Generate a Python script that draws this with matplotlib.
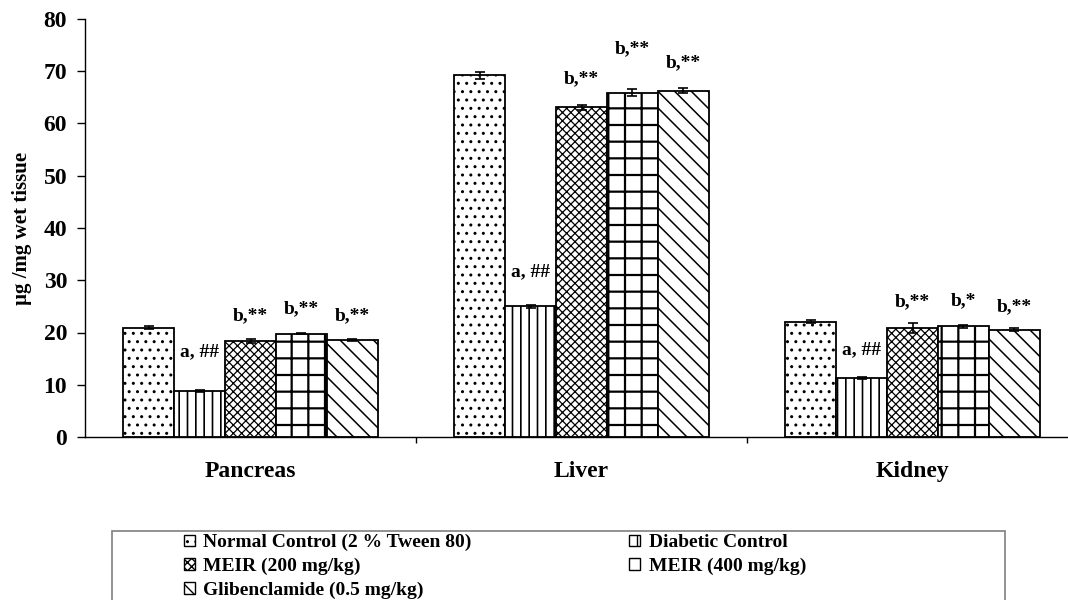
import matplotlib
matplotlib.use("Agg")
import matplotlib.pyplot as plt
import numpy as np
from matplotlib.patches import Rectangle, Patch

plt.rcParams["font.family"] = ["Liberation Serif", "DejaVu Serif"]
plt.rcParams["font.weight"] = "bold"
plt.rcParams["hatch.linewidth"] = 1.0

# ---- data -------------------------------------------------------------
tissues = ["Pancreas", "Liver", "Kidney"]
groups = [
    "Normal Control (2 % Tween 80)",
    "Diabetic Control",
    "MEIR (200 mg/kg)",
    "MEIR (400 mg/kg)",
    "Glibenclamide (0.5 mg/kg)",
]

normal_control = [20.9, 69.2, 22.1]
normal_control_err = [0.3, 0.6, 0.2]
diabetic_control = [8.8, 25.0, 11.3]
diabetic_control_err = [0.1, 0.3, 0.2]
meir_200 = [18.3, 63.1, 20.9]
meir_200_err = [0.4, 0.5, 0.9]
meir_400 = [19.8, 65.9, 21.2]
meir_400_err = [0.1, 0.7, 0.3]
glibenclamide = [18.5, 66.3, 20.5]
glibenclamide_err = [0.2, 0.5, 0.3]

sig_normal = ["", "", ""]
sig_diabetic = ["a, ##", "a, ##", "a, ##"]
sig_meir_200 = ["b,**", "b,**", "b,**"]
sig_meir_400 = ["b,**", "b,**", "b,*"]
sig_glib = ["b,**", "b,**", "b,**"]

series = [normal_control, diabetic_control, meir_200, meir_400, glibenclamide]
errors = [normal_control_err, diabetic_control_err, meir_200_err,
          meir_400_err, glibenclamide_err]
marks = [sig_normal, sig_diabetic, sig_meir_200, sig_meir_400, sig_glib]

# ---- styling ----------------------------------------------------------
hatches = ["..", "||", "xxxx", "+", "\\\\"]
hatch_widths = [1.0, 1.2, 0.9, 1.6, 1.1]
# label lift above each bar top, in pixels
label_lift = [
    [0, 0, 0],
    [39, 35, 28],
    [26, 29, 26],
    [25, 44, 25],
    [25, 28, 23],
]

W, H = 1068, 600
fig = plt.figure(figsize=(W / 100, H / 100), dpi=100)
ax = fig.add_axes([85 / W, 163 / H, 993 / W, 418 / H])

x = np.arange(len(tissues))
bw = 0.154
for i, (vals, errs, labs, hatch) in enumerate(zip(series, errors, marks, hatches)):
    pos = x + (i - 2) * bw
    bars = ax.bar(pos, vals, bw, yerr=errs, color="white", edgecolor="black",
                  linewidth=1.3, hatch=hatch, zorder=2,
                  error_kw=dict(ecolor="black", elinewidth=1.2, capsize=3.5,
                                capthick=1.2, zorder=3))
    for b in bars:
        if hasattr(b, "set_hatch_linewidth"):
            b.set_hatch_linewidth(hatch_widths[i])
    for px, v, lab, lift in zip(pos, vals, labs, label_lift[i]):
        if lab:
            ax.annotate(lab, (px, v), xytext=(0, lift * 0.72),
                        textcoords="offset points", ha="center", va="center",
                        fontsize=14, fontweight="bold")

ax.set_xlim(-0.5, 2.5)
ax.set_ylim(0, 80)
ax.set_yticks(np.arange(0, 81, 10))
ax.tick_params(axis="y", labelsize=17, length=5.8, width=1, pad=7,
               direction="out")
for s in ("top", "right"):
    ax.spines[s].set_visible(False)
for s in ("left", "bottom"):
    ax.spines[s].set_linewidth(1.0)

ax.set_xticks([0.5, 1.5, 2.5])
ax.set_xticklabels([])
ax.tick_params(axis="x", which="major", length=4.5, width=1, direction="out")
ax.set_xticks(x, minor=True)
ax.set_xticklabels(tissues, minor=True)
ax.tick_params(axis="x", which="minor", length=0, labelsize=17, pad=17)

ax.set_ylabel("\u00b5g /mg wet tissue", fontsize=15, fontweight="bold",
              labelpad=8)

# ---- legend -----------------------------------------------------------
handles = []
for h, hw in zip(hatches, hatch_widths):
    p = Patch(facecolor="white", edgecolor="black", hatch=h, linewidth=1)
    handles.append(p)
order = [0, 2, 4, 1, 3]
fig.legend([handles[k] for k in order], [groups[k] for k in order],
           loc="upper left", bbox_to_anchor=(184 / W, 1 - 534 / H),
           ncol=2, frameon=False, fontsize=14, handlelength=0.55,
           handleheight=0.55, handletextpad=0.45, columnspacing=8.1,
           labelspacing=0.33, borderpad=0, borderaxespad=0)

frame = Rectangle((112 / W, -0.1), (1005 - 112) / W, (H - 531) / H + 0.1,
                  transform=fig.transFigure, fill=False,
                  edgecolor="#7f7f7f", linewidth=1.2)
fig.patches.append(frame)

fig.savefig("out.png", dpi=100)
